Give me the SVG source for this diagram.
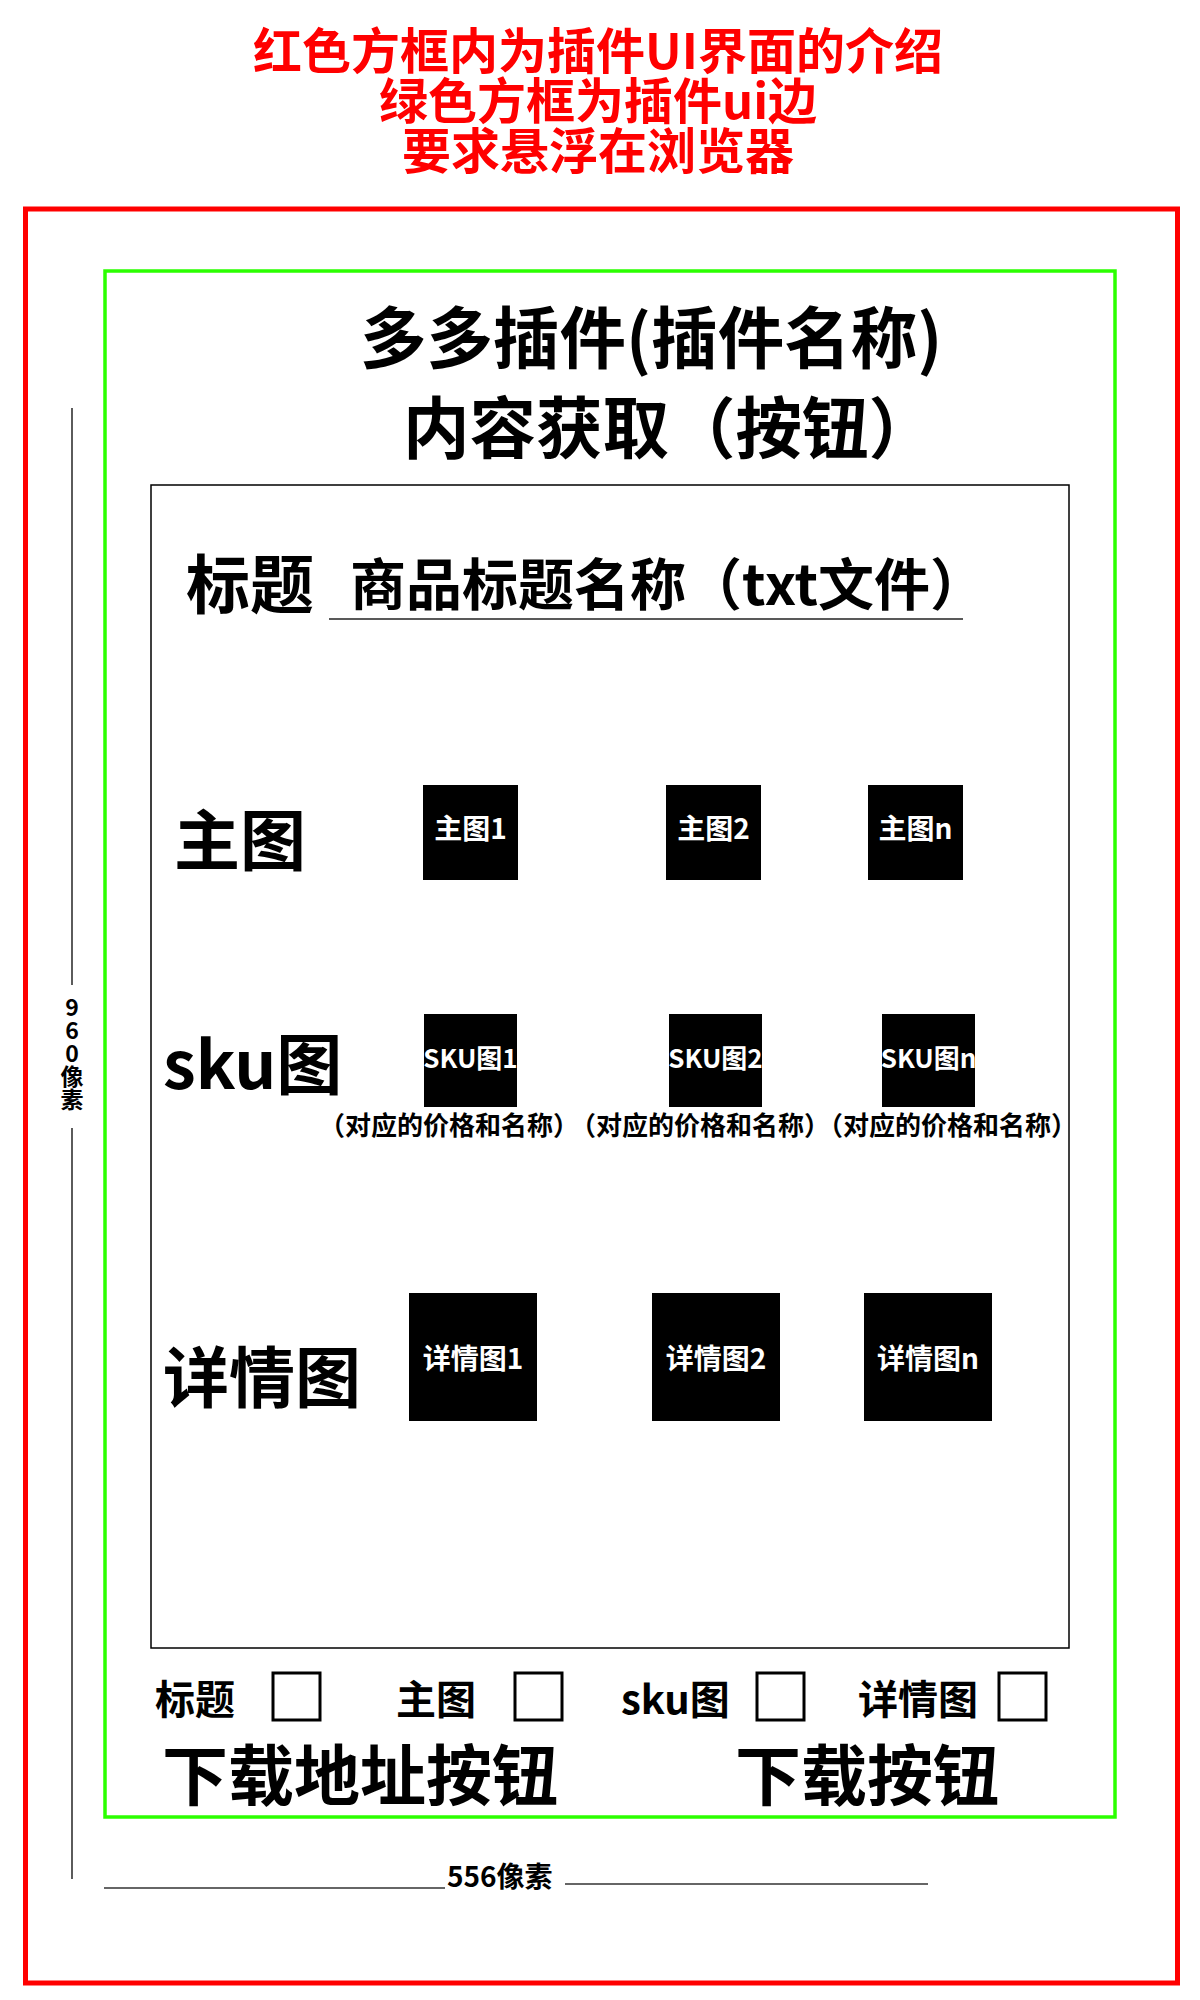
<svg xmlns="http://www.w3.org/2000/svg" width="1200" height="2000" viewBox="0 0 1200 2000">
<style>
text{font-family:"Noto Sans CJK SC","Noto Sans",sans-serif;font-weight:700;fill:#000}
.hdr{fill:#ff0000;font-size:49px;text-anchor:middle}
.ttl{font-size:66.5px}
.lbl{font-size:66px}
.box{fill:#000}
.inl{fill:#fff;text-anchor:middle}
.cap{font-size:26px;text-anchor:middle}
.chk{fill:none;stroke:#000;stroke-width:3}
.cbl{font-size:40px}
.dim{stroke:#333;stroke-width:1.6;fill:none}
.vert{writing-mode:vertical-rl;text-orientation:upright;font-size:23px}
</style>
<rect width="1200" height="2000" fill="#fff"/>
<g id="header">
<text class="hdr"><tspan x="598" y="69">红色方框内为插件UI界面的介绍</tspan><tspan x="598" y="119">绿色方框为插件ui边</tspan><tspan x="598" y="169">要求悬浮在浏览器</tspan></text>
</g>
<g id="browser-frame"><rect x="25.5" y="209" width="1152" height="1774" fill="none" stroke="#ff0000" stroke-width="5"/></g>
<g id="plugin-frame"><rect x="105" y="271" width="1010" height="1546" fill="none" stroke="#2bff00" stroke-width="3.5"/></g>
<g id="plugin-title">
<text class="ttl" x="360" y="363">多多插件(插件名称)</text>
<text class="ttl" x="403" y="453">内容获取（按钮）</text>
</g>
<g id="content-panel"><rect x="151" y="485" width="918" height="1163" fill="none" stroke="#000" stroke-width="1.5"/></g>
<g id="title-row">
<text x="186" y="608" font-size="64">标题</text>
<text x="350" y="605" font-size="56">商品标题名称（txt文件）</text>
<line x1="329" y1="619" x2="963" y2="619" stroke="#222" stroke-width="1.5"/>
</g>
<g id="main-images">
<text class="lbl" x="174" y="865">主图</text>
<g id="main-1"><rect class="box" x="423" y="785" width="95" height="95"/><text class="inl" x="470.5" y="839" font-size="28">主图1</text></g>
<g id="main-2"><rect class="box" x="666" y="785" width="95" height="95"/><text class="inl" x="713.5" y="839" font-size="28">主图2</text></g>
<g id="main-n"><rect class="box" x="868" y="785" width="95" height="95"/><text class="inl" x="915.5" y="839" font-size="28">主图n</text></g>
</g>
<g id="sku-images">
<text class="lbl" x="163" y="1089">sku图</text>
<g id="sku-1"><rect class="box" x="424" y="1014" width="93" height="93"/><text class="inl" x="470.5" y="1068" font-size="26">SKU图1</text><text class="cap" x="449" y="1135">（对应的价格和名称）</text></g>
<g id="sku-2"><rect class="box" x="669" y="1014" width="93" height="93"/><text class="inl" x="715.5" y="1068" font-size="26">SKU图2</text><text class="cap" x="700" y="1135">（对应的价格和名称）</text></g>
<g id="sku-n"><rect class="box" x="882" y="1014" width="93" height="93"/><text class="inl" x="928.5" y="1068" font-size="26">SKU图n</text><text class="cap" x="947" y="1135">（对应的价格和名称）</text></g>
</g>
<g id="detail-images">
<text class="lbl" x="163" y="1402">详情图</text>
<g id="detail-1"><rect class="box" x="409" y="1293" width="128" height="128"/><text class="inl" x="473" y="1369" font-size="28">详情图1</text></g>
<g id="detail-2"><rect class="box" x="652" y="1293" width="128" height="128"/><text class="inl" x="716" y="1369" font-size="28">详情图2</text></g>
<g id="detail-n"><rect class="box" x="864" y="1293" width="128" height="128"/><text class="inl" x="928" y="1369" font-size="28">详情图n</text></g>
</g>
<g id="checkboxes">
<g id="chk-title"><text class="cbl" x="155" y="1714">标题</text><rect class="chk" x="273" y="1673" width="47" height="47"/></g>
<g id="chk-main"><text class="cbl" x="396" y="1714">主图</text><rect class="chk" x="515" y="1673" width="47" height="47"/></g>
<g id="chk-sku"><text class="cbl" x="621" y="1714">sku图</text><rect class="chk" x="757" y="1673" width="47" height="47"/></g>
<g id="chk-detail"><text class="cbl" x="858" y="1714">详情图</text><rect class="chk" x="999" y="1673" width="47" height="47"/></g>
</g>
<g id="download-url-button"><text class="lbl" x="162" y="1800">下载地址按钮</text></g>
<g id="download-button"><text class="lbl" x="735" y="1800">下载按钮</text></g>
<g id="dimensions">
<line class="dim" x1="72" y1="408" x2="72" y2="985" stroke="#666"/>
<line class="dim" x1="72" y1="1128" x2="72" y2="1879"/>
<text class="vert" x="72" y="996">960像素</text>
<line class="dim" x1="104" y1="1888" x2="445" y2="1888"/>
<line class="dim" x1="565" y1="1884" x2="928" y2="1884"/>
<text x="447" y="1887" font-size="28">556像素</text>
</g>
</svg>
